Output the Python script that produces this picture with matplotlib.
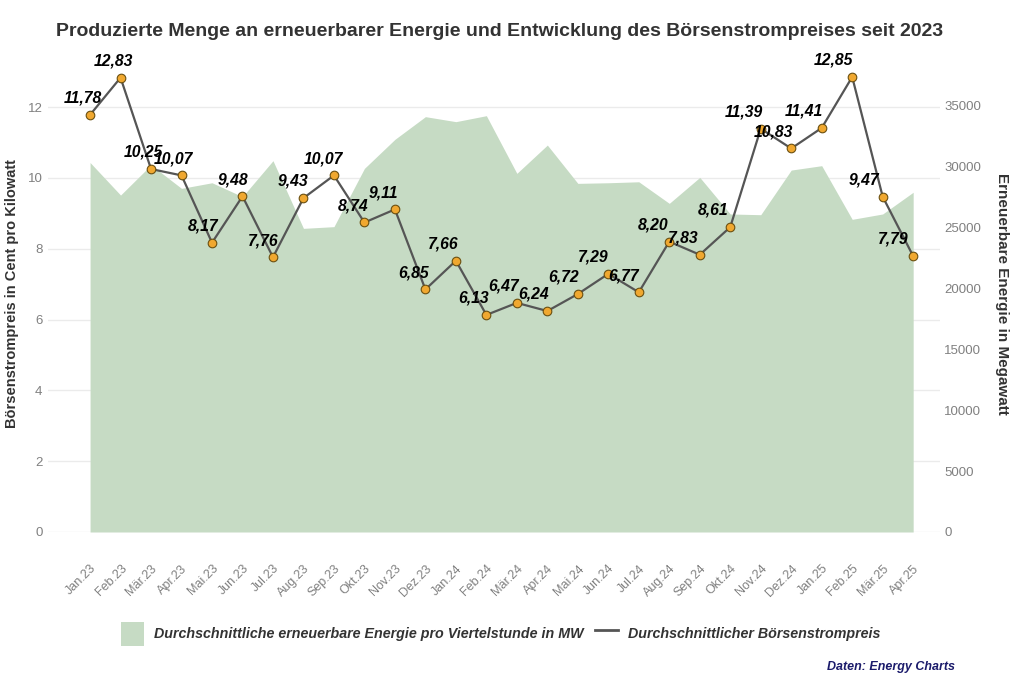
import numpy as np
import matplotlib
matplotlib.use("Agg")
import matplotlib.pyplot as plt
from matplotlib.patches import Patch
from matplotlib.lines import Line2D

plt.rcParams['font.family'] = ['Liberation Sans', 'DejaVu Sans']

# data
months = ["Jan.23", "Feb.23", "Mär.23", "Apr.23", "Mai.23", "Jun.23", "Jul.23",
          "Aug.23", "Sep.23", "Okt.23", "Nov.23", "Dez.23", "Jan.24", "Feb.24",
          "Mär.24", "Apr.24", "Mai.24", "Jun.24", "Jul.24", "Aug.24", "Sep.24",
          "Okt.24", "Nov.24", "Dez.24", "Jan.25", "Feb.25", "Mär.25", "Apr.25"]
price = [11.78, 12.83, 10.25, 10.07, 8.17, 9.48, 7.76, 9.43, 10.07, 8.74, 9.11, 6.85,
         7.66, 6.13, 6.47, 6.24, 6.72, 7.29, 6.77, 8.20, 7.83, 8.61, 11.39, 10.83,
         11.41, 12.85, 9.47, 7.79]
energy_mw = [30300, 27630, 30100, 28180, 28640, 27500, 30450, 24900, 25040, 29820,
             32200, 34060, 33650, 34140, 29410, 31730, 28590, 28640, 28720, 26950,
             29080, 26080, 26020, 29680, 30040, 25640, 26080, 27860]
left_ticks = [0, 2, 4, 6, 8, 10, 12]
right_ticks = [0, 5000, 10000, 15000, 20000, 25000, 30000, 35000]

x = np.arange(len(months))
top_left = 13.47
mw_per_ct = 2904.0

fig = plt.figure(figsize=(10.24, 6.83), dpi=100)
ax = fig.add_axes([48/1024, 1-532/683, (940-48)/1024, 477/683])
ax2 = ax.twinx()
ax.set_zorder(ax2.get_zorder() + 1)
ax.patch.set_visible(False)

# area + grid on the right-hand axes (drawn underneath)
for t in left_ticks:
    ax2.axhline(t * mw_per_ct, color="#ebebeb", lw=1.0, zorder=0)
ax2.fill_between(x, 0, energy_mw, color="#c6dbc4", lw=0, zorder=1)
ax2.set_ylim(0, top_left * mw_per_ct)
ax2.set_yticks(right_ticks)
ax2.set_yticklabels([str(t) for t in right_ticks])
ax2.set_ylabel("Erneuerbare Energie in Megawatt", rotation=270, labelpad=20,
               fontsize=11, fontweight="bold", color="#333333")

# price line
ax.plot(x, price, color="#555555", lw=1.6, zorder=3)
ax.plot(x, price, ls="none", marker="o", ms=6.2, mfc="#f0a830", mec="#6b5010",
        mew=0.8, zorder=4)
for i, (xi, v) in enumerate(zip(x, price)):
    dx = -(7 + 0.47 * i) * 0.72
    ax.annotate(f"{v:.2f}".replace(".", ","), (xi, v), xytext=(dx, 12),
                textcoords="offset points", ha="center", va="center",
                fontsize=11.3, fontweight="bold", fontstyle="italic",
                color="black", zorder=5, annotation_clip=False)

ax.set_ylim(0, top_left)
ax.set_xlim(-1.38, 27.88)
ax.set_yticks(left_ticks)
ax.set_xticks(x)
ax.set_xticklabels(months, rotation=45, ha="right", va="top", rotation_mode="anchor")
ax.set_ylabel("Börsenstrompreis in Cent pro Kilowatt", fontsize=10.5,
              fontweight="bold", color="#333333", labelpad=6)

for a in (ax, ax2):
    for s in a.spines.values():
        s.set_visible(False)
    a.tick_params(length=0, colors="#808080", labelsize=9.5)
ax.tick_params(axis="x", pad=22, labelsize=9)
ax.tick_params(axis="y", pad=4)
ax2.tick_params(axis="y", pad=3)

fig.text(500/1024, 1-31/683,
         "Produzierte Menge an erneuerbarer Energie und Entwicklung des Börsenstrompreises seit 2023",
         ha="center", va="center", fontsize=14, fontweight="bold", color="#333333")

handles = [Patch(facecolor="#c6dbc4", edgecolor="none"),
           Line2D([0], [0], color="#555555", lw=2)]
labels = ["Durchschnittliche erneuerbare Energie pro Viertelstunde in MW",
          "Durchschnittlicher Börsenstrompreis"]
fig.legend(handles, labels, loc="center", bbox_to_anchor=(501/1024, 1-634/683),
           ncol=2, frameon=False, handlelength=1.6, handleheight=2.2,
           columnspacing=0.8, handletextpad=0.7,
           prop=dict(style="italic", weight="bold", size=10.3),
           labelcolor="#333333")

fig.text(955/1024, 1-667/683, "Daten: Energy Charts", ha="right", va="center",
         fontsize=9, fontweight="bold", fontstyle="italic", color="#1b1b6b")

fig.savefig("out.png", dpi=100, facecolor="white")
